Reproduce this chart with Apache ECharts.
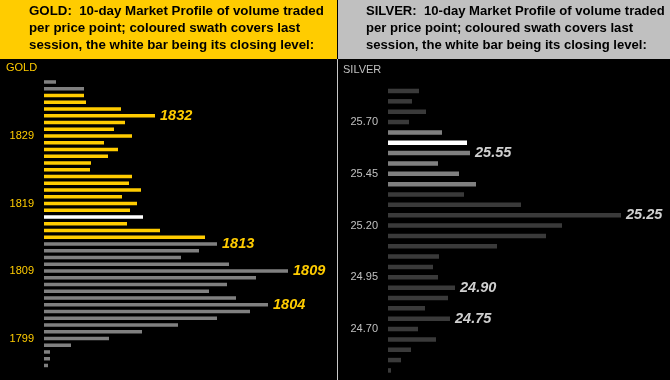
<!DOCTYPE html>
<html><head><meta charset="utf-8">
<script src="https://cdn.jsdelivr.net/npm/echarts@6/dist/echarts.min.js"></script>
<style>html,body{margin:0;padding:0;background:#000}#c{width:670px;height:380px}</style>
</head><body><div id="c"></div>
<script>
// ---- GOLD data ----
const goldPrices = [1837,1836,1835,1834,1833,1832,1831,1830,1829,1828,1827,1826,1825,1824,1823,1822,1821,1820,1819,1818,1817,1816,1815,1814,1813,1812,1811,1810,1809,1808,1807,1806,1805,1804,1803,1802,1801,1800,1799,1798,1797,1796,1795];
const goldVolumes = [12,40,40,42,77,111,81,70,88,60,74,64,47,46,88,85,97,78,93,86,99,83,116,161,173,155,137,185,244,212,183,165,192,224,206,173,134,98,65,27,6,6,4];
const goldTicks = [1829,1819,1809,1799];
const goldCallouts = [1832,1813,1809,1804];
const goldSessionHigh = 1835, goldSessionLow = 1814, goldClose = 1817;

// ---- SILVER data ----
const silverPrices = ['25.85','25.80','25.75','25.70','25.65','25.60','25.55','25.50','25.45','25.40','25.35','25.30','25.25','25.20','25.15','25.10','25.05','25.00','24.95','24.90','24.85','24.80','24.75','24.70','24.65','24.60','24.55','24.50'];
const silverVolumes = [31,24,38,21,54,79,82,50,71,88,76,133,233,174,158,109,51,45,50,67,60,37,62,30,48,23,13,3];
const silverTicks = ['25.70','25.45','25.20','24.95','24.70'];
const silverCallouts = ['25.55','25.25','24.90','24.75'];
const silverSessionHigh = 25.65, silverSessionLow = 25.40, silverClose = 25.60;

const goldTitle = ['GOLD:  10-day Market Profile of volume traded','per price point; coloured swath covers last','session, the white bar being its closing level:'];
const silverTitle = ['SILVER:  10-day Market Profile of volume traded','per price point; coloured swath covers last','session, the white bar being its closing level:'];

const YELLOW = '#FFCC00', GREY = '#808080', DARK = '#3a3a3a', WHITE = '#FFFFFF';
const FONT = 'Liberation Sans, Arial, sans-serif';

function goldColor(p){ if (p === goldClose) return WHITE; return (p <= goldSessionHigh && p >= goldSessionLow) ? YELLOW : GREY; }
function silverColor(s){ const p = parseFloat(s); if (Math.abs(p - silverClose) < 1e-6) return WHITE; return (p <= silverSessionHigh + 1e-6 && p >= silverSessionLow - 1e-6) ? GREY : DARK; }

const chart = echarts.init(document.getElementById('c'), null, {renderer:'canvas'});

function titleTexts(lines, x, size){
  return lines.map((t,i)=>({type:'text', x:x, y:11 + i*17, style:{text:t, fill:'#000', font:'bold ' + size + 'px ' + FONT, textVerticalAlign:'middle', textAlign:'left'}}));
}

const option = {
  backgroundColor:'#000',
  animation:false,
  graphic:[
    {type:'rect', shape:{x:0,y:0,width:337,height:59}, style:{fill:YELLOW}},
    {type:'rect', shape:{x:338,y:0,width:332,height:59}, style:{fill:'#C0C0C0'}},
    {type:'line', shape:{x1:337.5,y1:59,x2:337.5,y2:380}, style:{stroke:'#c8c8c8', lineWidth:1}},
    ...titleTexts(goldTitle, 29, 13.3),
    ...titleTexts(silverTitle, 366, 13.1),
    {type:'text', x:6, y:68, style:{text:'GOLD', fill:YELLOW, font:'11px ' + FONT, textVerticalAlign:'middle'}},
    {type:'text', x:343, y:70, style:{text:'SILVER', fill:'#c0c0c0', font:'11px ' + FONT, textVerticalAlign:'middle'}}
  ],
  grid:[
    {left:44, top:78.6, width:291, height:290.25},
    {left:388, top:85.8, width:282, height:289.8}
  ],
  xAxis:[
    {gridIndex:0, type:'value', min:0, max:291, show:false},
    {gridIndex:1, type:'value', min:0, max:282, show:false}
  ],
  yAxis:[
    {gridIndex:0, type:'category', inverse:true, data:goldPrices.map(String),
     axisLine:{show:false}, axisTick:{show:false}, splitLine:{show:false},
     axisLabel:{interval:(i,v)=>goldTicks.includes(+v), color:YELLOW, fontSize:11, fontFamily:FONT, margin:10}},
    {gridIndex:1, type:'category', inverse:true, data:silverPrices,
     axisLine:{show:false}, axisTick:{show:false}, splitLine:{show:false},
     axisLabel:{interval:(i,v)=>silverTicks.includes(v), color:'#c0c0c0', fontSize:11, fontFamily:FONT, margin:10}}
  ],
  series:[
    {type:'bar', xAxisIndex:0, yAxisIndex:0, barWidth:3.5,
     data:goldVolumes.map((v,i)=>({value:v, itemStyle:{color:goldColor(goldPrices[i])}, label:{show:goldCallouts.includes(goldPrices[i])}})),
     label:{position:'right', distance:5, formatter:p=>p.name, color:YELLOW, fontStyle:'italic', fontWeight:'bold', fontSize:14.5, fontFamily:FONT}},
    {type:'bar', xAxisIndex:1, yAxisIndex:1, barWidth:4.5,
     data:silverVolumes.map((v,i)=>({value:v, itemStyle:{color:silverColor(silverPrices[i])}, label:{show:silverCallouts.includes(silverPrices[i])}})),
     label:{position:'right', distance:5, formatter:p=>p.name, color:'#d0d0d0', fontStyle:'italic', fontWeight:'bold', fontSize:14.5, fontFamily:FONT}}
  ]
};
chart.setOption(option);
</script></body></html>
